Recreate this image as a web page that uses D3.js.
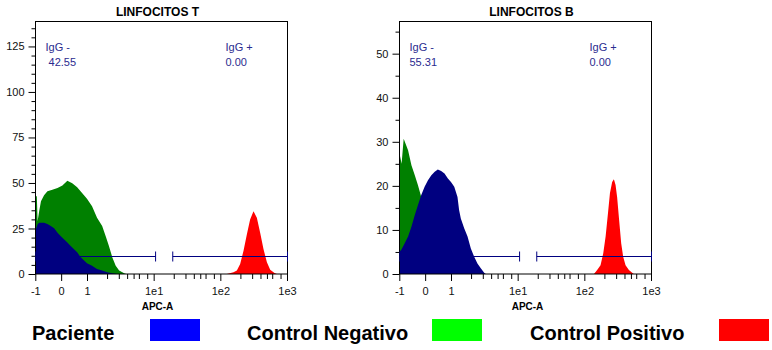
<!DOCTYPE html>
<html>
<head>
<meta charset="utf-8">
<script src="https://cdn.jsdelivr.net/npm/d3@7"></script>
<style>
body { margin: 0; background: #fff; }
svg { font-family: "Liberation Sans", Arial, sans-serif; }
</style>
</head>
<body>
<svg id="chart" width="772" height="350"></svg>
<script>
// APC-A axis (biexponential display: linear near 0, log above 1)
var xTicks = [-1, 0, 1, 10, 100, 1000];
var xTickLabels = ["-1", "0", "1", "1e1", "1e2", "1e3"];
var xMinorSteps = [2, 3, 4, 5, 6, 8];

var tYTicks = [0, 25, 50, 75, 100, 125];
var bYTicks = [0, 10, 20, 30, 40, 50];

// histograms as [APC-A value, count]
var tPaciente = [[-1, 24.6], [-0.93, 27.3], [-0.87, 28.2], [-0.68, 28.2], [-0.55, 27.5], [-0.42, 26.4],
    [-0.29, 25.1], [-0.16, 22.7], [-0.04, 20.9], [0.09, 19.1], [0.22, 17.3], [0.34, 15.5], [0.47, 13.7],
    [0.60, 11.9], [0.72, 9.5], [0.85, 7.7], [0.98, 5.9], [1.17, 4.6], [1.39, 2.8], [1.66, 1.9],
    [1.98, 1.0], [2.36, 0.4], [2.81, 0]];
var tNegativo = [[-1, 42.7], [-0.96, 42.7], [-0.93, 29], [-0.87, 34.5], [-0.80, 40], [-0.68, 43.2],
    [-0.55, 45.4], [-0.36, 46.3], [-0.16, 47.2], [0.03, 48.6], [0.22, 51.2], [0.41, 49.9], [0.60, 47.6],
    [0.79, 44.5], [0.98, 41.4], [1.17, 37.2], [1.39, 30.9], [1.66, 26.4], [1.87, 20.9], [2.09, 15.5],
    [2.36, 9.1], [2.65, 4.6], [2.98, 1.9], [3.55, 0.4], [3.8, 0]];
var tPositivo = [[123, 0], [155, 1.0], [174, 1.9], [195, 5.5], [219, 12.8], [246, 21.8], [275, 30],
    [309, 34.5], [347, 30.9], [389, 22.7], [436, 13.7], [491, 6.4], [550, 2.3], [638, 0.5], [693, 0]];

var bPaciente = [[-1, 5.1], [-0.93, 5.6], [-0.81, 7.0], [-0.68, 8.5], [-0.55, 10.7], [-0.42, 13.4],
    [-0.30, 15.6], [-0.17, 17.9], [-0.04, 19.8], [0.09, 21.3], [0.22, 22.4], [0.35, 23.2], [0.47, 23.7],
    [0.60, 23.4], [0.73, 22.8], [0.86, 21.7], [0.98, 20.9], [1.10, 19.8], [1.23, 17.5], [1.30, 14.5],
    [1.38, 12.6], [1.55, 10.4], [1.74, 8.5], [1.95, 5.8], [2.19, 3.9], [2.45, 2.4], [2.75, 1.3],
    [3.09, 0.3], [3.27, 0]];
var bNegativo = [[-1, 27], [-0.93, 25], [-0.85, 30.7], [-0.68, 28.1], [-0.55, 24.7], [-0.42, 22.4],
    [-0.30, 20.2], [-0.17, 17.5], [-0.04, 14], [0.15, 9], [0.38, 4], [0.62, 1], [0.77, 0]];
var bPositivo = [[137, 0], [153, 0.9], [172, 2.0], [189, 4.7], [205, 8.5], [222, 13.7], [238, 18.3],
    [257, 20.9], [273, 21.5], [289, 20.2], [305, 17.5], [327, 12.2], [351, 7.0], [376, 3.9], [408, 2.0],
    [458, 0.9], [513, 0.3], [543, 0]];

// gates IgG - / IgG +
var gates = [[-1, 10.5], [19, 1000]];
var statLabels = ["IgG -", "IgG +"];
var tStats = [" 42.55", "0.00"];
var bStats = ["55.31", "0.00"];

var legendLabels = ["Paciente", "Control Negativo", "Control Positivo"];
var legendColors = ["#0000ff", "#00ff00", "#ff0000"];
var fillColors = ["#000080", "#008000", "#ff0000"];

var svg = d3.select("#chart");
var w = 252, h = 252.5;

function drawChart(cfg) {
    var g = svg.append("g")
        .attr("transform", "translate(" + (cfg.left + 0.5) + ",21.5)");

    // linear part -1..1, log part 1..1000
    var xLin = d3.scaleLinear().domain([-1, 1]).range([0.3, 52]);
    var xLog = d3.scaleLog().domain([1, 1000]).range([52, 252]);
    var x = function(v) { return v <= 1 ? xLin(v) : xLog(v); };

    var y = d3.scaleLinear().domain([0, cfg.yMax]).range([h, 0]);

    var area = d3.area()
        .x(d => x(d[0]))
        .y0(h)
        .y1(d => y(d[1]));

    // negativo first, paciente over it, positivo
    [[cfg.neg, fillColors[1]], [cfg.pac, fillColors[0]], [cfg.pos, fillColors[2]]].forEach(s => {
        g.append("path")
            .datum(s[0])
            .attr("d", area)
            .attr("fill", s[1]);
    });

    // frame
    g.append("rect")
        .attr("x", 0)
        .attr("y", 0)
        .attr("width", w)
        .attr("height", h)
        .attr("fill", "none")
        .attr("stroke", "#000");

    // y axis
    var yMinor = d3.range(5, cfg.yMax, 5).filter(v => cfg.yTicks.indexOf(v) < 0);
    g.append("g")
        .call(d3.axisLeft(y).tickValues(yMinor).tickSize(4).tickFormat(""))
        .call(a => a.select(".domain").remove());
    g.append("g")
        .call(d3.axisLeft(y).tickValues(cfg.yTicks).tickSize(7).tickPadding(4))
        .call(a => a.select(".domain").remove())
        .selectAll("text")
            .attr("font-size", 11)
            .attr("font-family", "Liberation Sans, Arial, sans-serif")
            .attr("fill", "#111");

    // x axis
    var minors = [];
    [1, 10, 100].forEach(dec => xMinorSteps.forEach(s => minors.push(dec * s)));
    g.selectAll(".xminor")
        .data(minors)
        .enter().append("line")
            .attr("x1", d => x(d))
            .attr("x2", d => x(d))
            .attr("y1", h)
            .attr("y2", h + 5)
            .attr("stroke", "#000");
    g.selectAll(".xmajor")
        .data(xTicks)
        .enter().append("line")
            .attr("x1", d => x(d))
            .attr("x2", d => x(d))
            .attr("y1", h)
            .attr("y2", h + 7)
            .attr("stroke", "#000");
    g.selectAll(".xlabel")
        .data(xTicks)
        .enter().append("text")
            .attr("x", d => x(d))
            .attr("y", h + 20.5)
            .attr("text-anchor", "middle")
            .attr("font-size", 11)
            .attr("fill", "#111")
            .text((d, i) => xTickLabels[i]);

    g.append("text")
        .attr("x", cfg.axisX)
        .attr("y", 288.5)
        .attr("text-anchor", "middle")
        .attr("font-size", 10)
        .attr("font-weight", "bold")
        .text("APC-A");

    g.append("text")
        .attr("x", cfg.titleX)
        .attr("y", -5.5)
        .attr("text-anchor", "middle")
        .attr("font-size", 12)
        .attr("font-weight", "bold")
        .text(cfg.title);

    // gates
    gates.forEach(gt => {
        var gy = Math.round(y(cfg.gateLevel));
        g.append("line")
            .attr("x1", x(gt[0])).attr("x2", x(gt[1]))
            .attr("y1", gy).attr("y2", gy)
            .attr("stroke", "#000080");
        gt.forEach(v => {
            g.append("line")
                .attr("x1", x(v)).attr("x2", x(v))
                .attr("y1", gy - 5).attr("y2", gy + 5)
                .attr("stroke", "#000080");
        });
    });

    // stats
    [10, 190].forEach((sx, i) => {
        var t = g.append("text")
            .attr("font-size", 11)
            .attr("fill", "#2b2b8f")
            .style("white-space", "pre");
        t.append("tspan").attr("x", sx).attr("y", 29.5).text(statLabels[i]);
        t.append("tspan").attr("x", sx).attr("y", 44.5).text(cfg.stats[i]);
    });
}

drawChart({
    left: 35, title: "LINFOCITOS T", titleX: 122, axisX: 122,
    yMax: 138.7, yTicks: tYTicks, gateLevel: 9.5,
    pac: tPaciente, neg: tNegativo, pos: tPositivo, stats: tStats
});
drawChart({
    left: 399, title: "LINFOCITOS B", titleX: 132, axisX: 128,
    yMax: 57.3, yTicks: bYTicks, gateLevel: 4.0,
    pac: bPaciente, neg: bNegativo, pos: bPositivo, stats: bStats
});

// legend
var legendTextX = [32, 247, 530];
var legendBoxX = [150, 432, 719];
var lg = svg.append("g");
legendLabels.forEach((lab, i) => {
    lg.append("text")
        .attr("x", legendTextX[i])
        .attr("y", 340)
        .attr("font-size", 20)
        .attr("font-weight", "bold")
        .text(lab);
    lg.append("rect")
        .attr("x", legendBoxX[i])
        .attr("y", 319)
        .attr("width", 50)
        .attr("height", 22)
        .attr("fill", legendColors[i]);
});
</script>
</body>
</html>
